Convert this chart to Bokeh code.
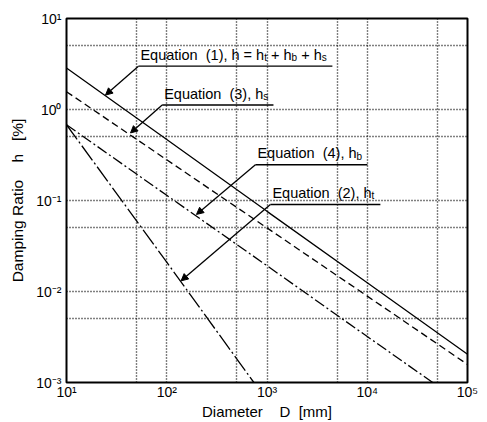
import math
from bokeh.plotting import figure
from bokeh.models import (FixedTicker, CustomJSTickFormatter, ColumnDataSource,
                          Arrow, NormalHead)
from bokeh.core.properties import value
from bokeh.embed import file_html
from bokeh.resources import INLINE

# ---- data ----
# Equation (1): h = ht + hb + hs  (solid)
eq1_D = [10, 100, 1000, 10000, 100000]
eq1_h = [2.86, 0.467, 0.076, 0.0125, 0.00204]
# Equation (3): hs  (dashed)
eq3_D = [10, 100, 1000, 10000, 100000]
eq3_h = [1.57, 0.28, 0.050, 0.0089, 0.00158]
# Equation (4): hb  (dash-dot)
eq4_D = [10, 100, 1000, 10000, 45000]
eq4_h = [0.68, 0.114, 0.0192, 0.0032, 0.001]
# Equation (2): ht  (long dash-dot)
eq2_D = [10, 100, 740]
eq2_h = [0.68, 0.021, 0.001]

x_ticks = [10, 100, 1000, 10000, 100000]
y_ticks = [0.001, 0.01, 0.1, 1, 10]
x_grid = [50, 100, 500, 1000, 5000, 10000, 50000]
y_grid = [0.005, 0.01, 0.05, 0.1, 0.5, 1, 5]

NB = "\u00a0"
x_title = "Diameter" + NB * 4 + "D" + NB * 2 + "[mm]"
y_title = "Damping Ratio" + NB * 4 + "h" + NB * 3 + "[%]"

# annotation: text pieces (text, is_subscript), underline start/end D, underline h, arrow tip (D, h)
annotations = [
    ([("Equation" + NB + NB + "(1)," + NB + "h" + NB + "=" + NB + "h", False), ("t", True),
      (NB + "+" + NB + "h", False), ("b", True), (NB + "+" + NB + "h", False), ("s", True)],
     52.2, 4490, 2.99, 24.5, 1.44),
    ([("Equation" + NB + NB + "(3)," + NB + "h", False), ("s", True)], 90, 1160, 1.12, 43.5, 0.553),
    ([("Equation" + NB + NB + "(4)," + NB + "h", False), ("b", True)], 766, 10030, 0.247, 198, 0.0703),
    ([("Equation" + NB + NB + "(2)," + NB + "h", False), ("t", True)], 1081, 13520, 0.0904, 139, 0.0131),
]

FONT = "Liberation Sans"
F = 14.5
FS = 10.0
W = {" ": 278, NB: 278, "(": 333, ")": 333, ",": 278, "=": 584, "+": 584, "E": 667,
     "q": 556, "u": 556, "a": 556, "t": 278, "i": 222, "o": 556, "n": 556, "h": 556,
     "b": 556, "s": 500}


def text_width(s, size):
    return sum(W.get(c, 556) for c in s) * size / 1000.0


p = figure(width=487, height=422, x_axis_type="log", y_axis_type="log",
           x_range=(10, 100000), y_range=(0.001, 10),
           output_backend="svg", toolbar_location=None,
           min_border_left=66, min_border_right=20, min_border_top=18,
           min_border_bottom=38, background_fill_color="white",
           border_fill_color="white")

p.outline_line_color = "black"
p.outline_line_width = 2
p.outline_line_alpha = 1.0

for ax, ticks in ((p.xaxis[0], x_ticks), (p.yaxis[0], y_ticks)):
    ax.ticker = FixedTicker(ticks=ticks, minor_ticks=[])
    ax.formatter = CustomJSTickFormatter(code="""
        const sup = {"-": "\u207b", "0": "\u2070", "1": "\u00b9", "2": "\u00b2",
                     "3": "\u00b3", "4": "\u2074", "5": "\u2075"};
        const e = Math.round(Math.log10(tick));
        return "10" + String(e).split("").map(c => sup[c]).join("");
    """)
    ax.axis_line_color = None
    ax.major_tick_line_color = None
    ax.minor_tick_line_color = None
    ax.major_tick_out = 0
    ax.major_tick_in = 0
    ax.major_label_text_font = FONT
    ax.major_label_text_font_size = "14px"
    ax.major_label_text_color = "black"
    ax.axis_label_text_font = FONT
    ax.axis_label_text_font_style = "normal"
    ax.axis_label_text_color = "black"

p.xaxis.axis_label = x_title
p.yaxis.axis_label = y_title
p.xaxis.axis_label_text_font_size = "15px"
p.yaxis.axis_label_text_font_size = "15.5px"
p.xaxis.major_label_standoff = 1
p.yaxis.major_label_standoff = 5
p.xaxis.axis_label_standoff = 0
p.yaxis.axis_label_standoff = 7
p.xaxis.major_label_text_line_height = 1.0
p.xaxis.axis_label_text_line_height = 1.0

p.xgrid.ticker = FixedTicker(ticks=x_grid)
p.ygrid.ticker = FixedTicker(ticks=y_grid)
for g in (p.xgrid[0], p.ygrid[0]):
    g.grid_line_color = "black"
    g.grid_line_dash = "1 2"
    g.grid_line_width = 1.4
    g.grid_line_alpha = 1.0

lw = 1.3
p.line(eq1_D, eq1_h, line_color="black", line_width=lw)
p.line(eq3_D, eq3_h, line_color="black", line_width=lw, line_dash="7 4")
p.line(eq4_D, eq4_h, line_color="black", line_width=lw, line_dash="11 3 2 3")
p.line(eq2_D, eq2_h, line_color="black", line_width=lw, line_dash="18 3 2 3")

tx, ty, tt, txo, tyo, tfs = [], [], [], [], [], []
for parts, d0, d1, hh, tipd, tiph in annotations:
    # underline
    p.segment(x0=[d0], y0=[hh], x1=[d1], y1=[hh], line_color="black", line_width=1.3)
    # leader with arrowhead
    p.add_layout(Arrow(end=NormalHead(size=7, line_color="black", fill_color="black",
                                      line_width=1),
                       x_start=d0, y_start=hh, x_end=tipd, y_end=tiph,
                       line_color="black", line_width=1.3))
    off = 2.0
    for s, sub in parts:
        size = FS if sub else F
        tx.append(d0)
        ty.append(hh)
        tt.append(s)
        txo.append(off)
        tyo.append(-8.5 if sub else -11.5)
        tfs.append("%.1fpx" % size)
        off += text_width(s, size)

src = ColumnDataSource(dict(x=tx, y=ty, text=tt, xo=txo, yo=tyo, fs=tfs))
p.text(x="x", y="y", text="text", x_offset="xo", y_offset="yo", source=src,
       text_font=value(FONT), text_font_size="fs", text_color="black",
       text_baseline="alphabetic", text_align="left")

open("out.html", "w").write(file_html(p, INLINE))
